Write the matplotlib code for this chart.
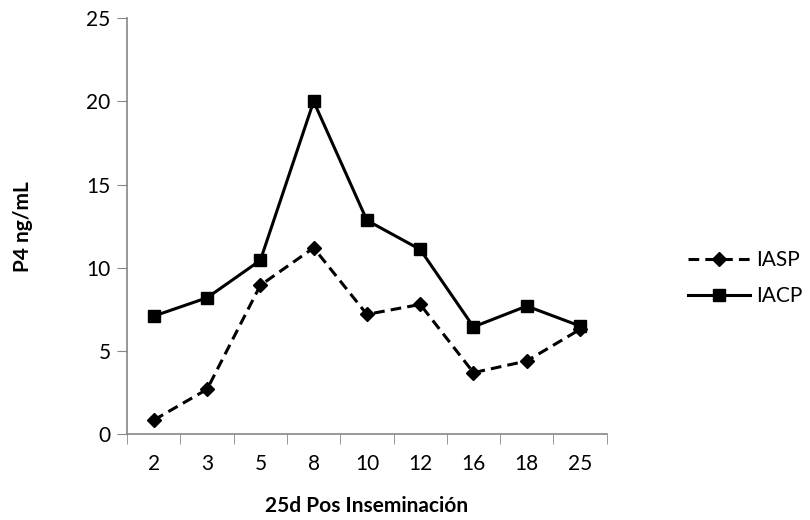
import matplotlib
matplotlib.use("Agg")
import matplotlib.pyplot as plt
import numpy as np

# Datos
dias = ["2", "3", "5", "8", "10", "12", "16", "18", "25"]
iasp = [0.85, 2.7, 8.95, 11.2, 7.2, 7.8, 3.7, 4.4, 6.3]
iacp = [7.1, 8.2, 10.45, 20.0, 12.85, 11.1, 6.45, 7.7, 6.5]

plt.rcParams["font.family"] = ["Lato", "DejaVu Sans"]

fig = plt.figure(figsize=(8.1, 5.2), dpi=100)
ax = fig.add_axes([0.157, 0.165, 0.592, 0.8])

x = np.arange(len(dias))
ax.plot(x, iasp, color="black", linestyle=(0, (3.5, 2)), linewidth=2.2,
        marker="D", markersize=7, label="IASP")
ax.plot(x, iacp, color="black", linestyle="-", linewidth=2.2,
        marker="s", markersize=9, label="IACP")

ax.set_xlim(-0.5, len(dias) - 0.5)
ax.set_ylim(0, 25)
ax.set_yticks(range(0, 26, 5))
ax.set_xticks(x)
ax.set_xticklabels(dias)
ax.set_xticks(np.arange(-0.5, len(dias)), minor=True)
ax.tick_params(axis="x", which="major", length=0, pad=14, labelsize=15)
ax.tick_params(axis="x", which="minor", length=7, color="#868686", direction="out")
ax.tick_params(axis="y", length=7, color="#868686", labelsize=15, pad=5)

for s in ["top", "right"]:
    ax.spines[s].set_visible(False)
for s in ["left", "bottom"]:
    ax.spines[s].set_color("#868686")
    ax.spines[s].set_linewidth(1.2)

ax.set_xlabel("25d Pos Inseminación", fontsize=15, fontweight="bold", labelpad=16)
ax.set_ylabel("P4 ng/mL", fontsize=15, fontweight="bold", labelpad=38)

ax.legend(loc="center left", bbox_to_anchor=(1.13, 0.375), frameon=False,
          fontsize=15, handlelength=3.0, handletextpad=0.3, labelspacing=0.75)

fig.savefig("out.png", dpi=100)
